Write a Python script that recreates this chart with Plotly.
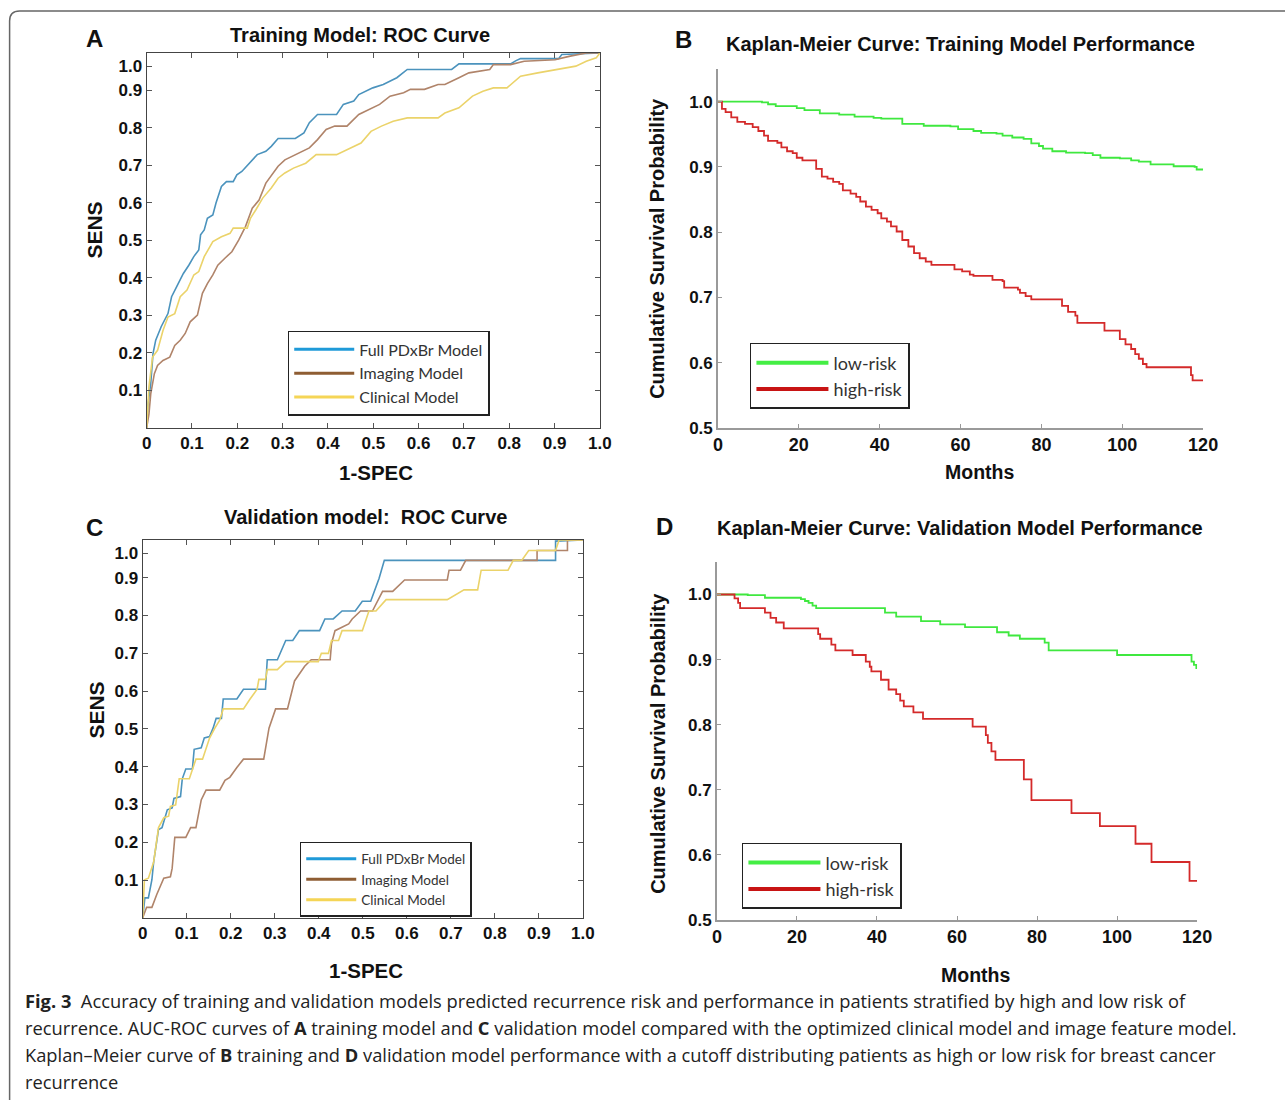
import plotly.graph_objects as go

W, H = 1285, 1100

# ---------------- data ----------------
# Panel A: training ROC (1-SPEC, SENS)
a_full_x = [0, 0.003, 0.009, 0.014, 0.02, 0.032, 0.047, 0.055, 0.066, 0.081, 0.093, 0.104, 0.115, 0.119, 0.127, 0.134, 0.146, 0.153, 0.165, 0.176, 0.191, 0.199, 0.21, 0.226, 0.244, 0.263, 0.275, 0.29, 0.328, 0.347, 0.359, 0.377, 0.419, 0.434, 0.457, 0.468, 0.499, 0.522, 0.552, 0.575, 0.673, 0.689, 0.803, 0.814, 0.825, 0.909, 0.916, 1.0]
a_full_y = [0, 0.064, 0.118, 0.198, 0.234, 0.27, 0.305, 0.35, 0.376, 0.412, 0.434, 0.457, 0.475, 0.515, 0.528, 0.559, 0.568, 0.6, 0.644, 0.657, 0.657, 0.675, 0.684, 0.706, 0.729, 0.738, 0.751, 0.772, 0.772, 0.787, 0.814, 0.836, 0.836, 0.863, 0.872, 0.889, 0.907, 0.916, 0.934, 0.956, 0.956, 0.971, 0.971, 0.979, 0.985, 0.985, 0.996, 1.0]
a_img_x = [0, 0.005, 0.009, 0.017, 0.024, 0.036, 0.051, 0.062, 0.074, 0.085, 0.096, 0.112, 0.123, 0.134, 0.146, 0.157, 0.172, 0.188, 0.203, 0.218, 0.233, 0.248, 0.263, 0.279, 0.29, 0.305, 0.328, 0.359, 0.377, 0.396, 0.415, 0.442, 0.468, 0.491, 0.514, 0.537, 0.567, 0.582, 0.613, 0.643, 0.658, 0.689, 0.711, 0.757, 0.765, 0.803, 0.833, 0.901, 0.932, 0.97, 1.0]
a_img_y = [0, 0.037, 0.091, 0.145, 0.167, 0.18, 0.189, 0.22, 0.234, 0.252, 0.283, 0.301, 0.359, 0.385, 0.408, 0.434, 0.452, 0.47, 0.501, 0.537, 0.586, 0.608, 0.653, 0.68, 0.698, 0.715, 0.729, 0.747, 0.769, 0.796, 0.805, 0.805, 0.836, 0.849, 0.863, 0.885, 0.894, 0.903, 0.903, 0.916, 0.916, 0.934, 0.947, 0.956, 0.969, 0.969, 0.978, 0.982, 0.991, 1.0, 1.0]
a_cli_x = [0, 0.005, 0.013, 0.024, 0.036, 0.047, 0.062, 0.074, 0.089, 0.104, 0.115, 0.127, 0.146, 0.165, 0.184, 0.191, 0.222, 0.229, 0.241, 0.256, 0.275, 0.29, 0.305, 0.324, 0.351, 0.374, 0.419, 0.45, 0.473, 0.495, 0.518, 0.544, 0.575, 0.643, 0.658, 0.689, 0.719, 0.742, 0.765, 0.795, 0.825, 0.863, 0.901, 0.947, 0.97, 0.992, 1.0]
a_cli_y = [0, 0.109, 0.189, 0.207, 0.26, 0.296, 0.305, 0.35, 0.368, 0.408, 0.417, 0.457, 0.497, 0.51, 0.519, 0.533, 0.533, 0.559, 0.582, 0.613, 0.64, 0.666, 0.68, 0.693, 0.706, 0.729, 0.729, 0.747, 0.76, 0.791, 0.805, 0.818, 0.827, 0.827, 0.84, 0.854, 0.885, 0.898, 0.907, 0.907, 0.938, 0.947, 0.956, 0.965, 0.978, 0.987, 1.0]

# Panel C: validation ROC
c_full_x = [0, 0.005, 0.013, 0.021, 0.025, 0.03, 0.036, 0.044, 0.056, 0.067, 0.071, 0.086, 0.09, 0.098, 0.113, 0.117, 0.133, 0.14, 0.152, 0.16, 0.167, 0.179, 0.183, 0.214, 0.229, 0.279, 0.283, 0.306, 0.325, 0.341, 0.356, 0.402, 0.414, 0.433, 0.453, 0.483, 0.499, 0.518, 0.537, 0.549, 0.938, 0.938, 1.0]
c_full_y = [0, 0.053, 0.053, 0.101, 0.148, 0.187, 0.234, 0.239, 0.286, 0.291, 0.316, 0.321, 0.368, 0.394, 0.394, 0.446, 0.45, 0.476, 0.48, 0.502, 0.528, 0.528, 0.579, 0.579, 0.605, 0.605, 0.683, 0.683, 0.734, 0.734, 0.76, 0.76, 0.791, 0.791, 0.812, 0.812, 0.838, 0.838, 0.898, 0.946, 0.946, 0.997, 1.0]
c_img_x = [0, 0.009, 0.021, 0.032, 0.048, 0.063, 0.067, 0.073, 0.098, 0.109, 0.121, 0.125, 0.133, 0.144, 0.175, 0.187, 0.198, 0.214, 0.229, 0.275, 0.287, 0.302, 0.329, 0.345, 0.368, 0.383, 0.426, 0.429, 0.437, 0.468, 0.476, 0.495, 0.522, 0.545, 0.568, 0.595, 0.692, 0.696, 0.722, 0.734, 0.896, 0.896, 0.965, 0.965, 1.0]
c_img_y = [0, 0.028, 0.028, 0.062, 0.105, 0.109, 0.131, 0.213, 0.213, 0.239, 0.239, 0.265, 0.312, 0.338, 0.338, 0.364, 0.372, 0.398, 0.42, 0.42, 0.502, 0.553, 0.553, 0.627, 0.666, 0.683, 0.683, 0.726, 0.76, 0.778, 0.791, 0.812, 0.812, 0.864, 0.864, 0.894, 0.894, 0.92, 0.92, 0.946, 0.946, 0.972, 0.972, 1.0, 1.0]
c_cli_x = [0, 0.004, 0.013, 0.025, 0.036, 0.048, 0.059, 0.063, 0.075, 0.083, 0.106, 0.121, 0.136, 0.152, 0.164, 0.175, 0.183, 0.229, 0.244, 0.26, 0.264, 0.279, 0.283, 0.306, 0.325, 0.399, 0.406, 0.422, 0.429, 0.445, 0.453, 0.499, 0.514, 0.53, 0.553, 0.692, 0.73, 0.761, 0.769, 0.83, 0.842, 0.861, 0.877, 0.938, 0.946, 1.0]
c_cli_y = [0, 0.101, 0.105, 0.148, 0.239, 0.265, 0.269, 0.295, 0.299, 0.368, 0.368, 0.42, 0.42, 0.476, 0.502, 0.523, 0.553, 0.553, 0.579, 0.605, 0.631, 0.631, 0.657, 0.657, 0.678, 0.678, 0.7, 0.7, 0.734, 0.734, 0.76, 0.76, 0.812, 0.812, 0.842, 0.842, 0.868, 0.868, 0.92, 0.92, 0.946, 0.946, 0.972, 0.972, 1.0, 1.0]

# Panel B: Kaplan-Meier, training (months, survival)
b_low_t = [0, 10.9, 12.4, 14.3, 19.5, 21.4, 25.2, 30, 33.8, 38.5, 40.4, 45.6, 50.9, 57.5, 59.4, 63.2, 65.1, 68.9, 70.4, 72.8, 75.6, 77.5, 79.4, 80.4, 82.7, 86.1, 90.8, 92.7, 94.6, 99.4, 102.2, 104.1, 107, 112.7, 117.9, 118.4, 120]
b_low_s = [1.0, 0.999, 0.996, 0.993, 0.99, 0.987, 0.982, 0.98, 0.977, 0.975, 0.974, 0.966, 0.963, 0.962, 0.958, 0.955, 0.952, 0.951, 0.948, 0.945, 0.943, 0.936, 0.932, 0.928, 0.924, 0.922, 0.921, 0.918, 0.914, 0.913, 0.91, 0.908, 0.904, 0.901, 0.9, 0.896, 0.896]
b_high_t = [0, 1, 1.9, 3.3, 4.8, 6.7, 8.6, 10, 11.4, 12.4, 14.7, 15.7, 17.1, 18.5, 19.5, 20.9, 24.3, 25.7, 27.1, 28.5, 30, 30.9, 32.8, 34.2, 35.2, 36.6, 38, 39.5, 40.4, 41.8, 42.8, 44.2, 45.6, 47.1, 48.5, 49.9, 51.4, 52.8, 58.5, 60.4, 62.3, 63.2, 67.9, 70.4, 70.8, 74.2, 74.7, 76.1, 77.5, 85.1, 86.6, 88.4, 88.9, 95.6, 99.4, 100.8, 102.2, 103.2, 104.1, 105.1, 106, 117, 117.4, 120]
b_high_s = [1.0, 0.989, 0.984, 0.976, 0.969, 0.966, 0.961, 0.955, 0.948, 0.94, 0.937, 0.93, 0.924, 0.921, 0.914, 0.91, 0.897, 0.885, 0.882, 0.877, 0.874, 0.864, 0.859, 0.854, 0.847, 0.839, 0.834, 0.829, 0.821, 0.816, 0.809, 0.801, 0.788, 0.778, 0.768, 0.76, 0.755, 0.75, 0.743, 0.74, 0.735, 0.733, 0.727, 0.725, 0.715, 0.712, 0.707, 0.702, 0.697, 0.687, 0.678, 0.672, 0.661, 0.649, 0.636, 0.628, 0.621, 0.613, 0.606, 0.598, 0.593, 0.581, 0.573, 0.573]

# Panel D: Kaplan-Meier, validation
d_low_t = [0, 7.7, 12, 21, 22, 22.9, 23.9, 24.8, 42, 44.8, 51, 55.8, 62, 70, 72.9, 75.7, 81.9, 82.9, 100, 118.6, 119.2, 119.8, 120]
d_low_s = [1.0, 0.999, 0.995, 0.993, 0.99, 0.987, 0.983, 0.979, 0.972, 0.966, 0.959, 0.954, 0.95, 0.942, 0.937, 0.932, 0.926, 0.914, 0.907, 0.897, 0.892, 0.887, 0.887]
d_high_t = [0, 4.4, 5.3, 5.8, 12, 13.4, 14.8, 16.7, 25.3, 25.8, 28.6, 29.6, 33.9, 37.2, 38.2, 38.6, 41, 42.9, 44.8, 45.8, 46.7, 49.1, 51.5, 63.9, 67.2, 67.7, 68.6, 69.6, 76.7, 78.6, 88.6, 95.7, 104.6, 108.6, 118.1, 120]
d_high_s = [1.0, 0.994, 0.987, 0.979, 0.972, 0.964, 0.957, 0.948, 0.939, 0.932, 0.923, 0.914, 0.907, 0.897, 0.889, 0.882, 0.869, 0.854, 0.847, 0.837, 0.828, 0.819, 0.809, 0.797, 0.784, 0.772, 0.759, 0.746, 0.716, 0.684, 0.664, 0.644, 0.617, 0.589, 0.56, 0.56]

roc_names = ["Full PDxBr Model", "Imaging Model", "Clinical Model"]
km_names = ["low-risk", "high-risk"]
roc_ticks = [0, 0.1, 0.2, 0.3, 0.4, 0.5, 0.6, 0.7, 0.8, 0.9, 1.0]
roc_tick_text = ["0", "0.1", "0.2", "0.3", "0.4", "0.5", "0.6", "0.7", "0.8", "0.9", "1.0"]
roc_ytick_vals = [0.1, 0.2, 0.3, 0.4, 0.5, 0.6, 0.7, 0.8, 0.9, 0.965]
roc_ytick_text = ["0.1", "0.2", "0.3", "0.4", "0.5", "0.6", "0.7", "0.8", "0.9", "1.0"]
km_xticks = [0, 20, 40, 60, 80, 100, 120]
km_yticks = [0.5, 0.6, 0.7, 0.8, 0.9, 1.0]

# ---------------- styling ----------------
roc_line_colors = ["#4b93bd", "#b0846a", "#ebd36a"]
roc_leg_colors = ["#1f9ad8", "#8e5d33", "#f5d556"]
km_line_colors = ["#3fe83f", "#d42a2a"]
km_leg_colors = ["#44ee44", "#c81414"]

BOLD = "Liberation Sans, Arial, sans-serif"
LEGF = "Lato, Open Sans, sans-serif"

# empirical calibration between intended window pixels and the rendered picture
SX, BX, SY = 0.984, 5.4, 0.991


def px(x):
    return ((x - BX) / SX) / W


def py(y):
    return 1 - (y / SY) / H


fig = go.Figure()

roc_sets = {
    "A": [(a_full_x, a_full_y), (a_img_x, a_img_y), (a_cli_x, a_cli_y)],
    "C": [(c_full_x, c_full_y), (c_img_x, c_img_y), (c_cli_x, c_cli_y)],
}
roc_axes = {"A": ("x", "y", "legend"), "C": ("x3", "y3", "legend3")}
for key, sets in roc_sets.items():
    xa, ya, lg = roc_axes[key]
    for (xs, ys), name, col in zip(sets, roc_names, roc_line_colors):
        fig.add_trace(go.Scatter(x=xs, y=ys, mode="lines", name=name, xaxis=xa, yaxis=ya,
                                 line=dict(color=col, width=1.6), showlegend=False))
    for name, col in zip(roc_names, roc_leg_colors):
        fig.add_trace(go.Scatter(x=[None], y=[None], mode="lines", name=name, xaxis=xa, yaxis=ya,
                                 line=dict(color=col, width=3), legend=lg, showlegend=True))

km_sets = {
    "B": [(b_low_t, b_low_s), (b_high_t, b_high_s)],
    "D": [(d_low_t, d_low_s), (d_high_t, d_high_s)],
}
km_axes = {"B": ("x2", "y2", "legend2"), "D": ("x4", "y4", "legend4")}
for key, sets in km_sets.items():
    xa, ya, lg = km_axes[key]
    for (ts, ss), name, col in zip(sets, km_names, km_line_colors):
        fig.add_trace(go.Scatter(x=ts, y=ss, mode="lines", name=name, xaxis=xa, yaxis=ya,
                                 line=dict(color=col, width=1.8, shape="hv"), showlegend=False))
    for name, col in zip(km_names, km_leg_colors):
        fig.add_trace(go.Scatter(x=[None], y=[None], mode="lines", name=name, xaxis=xa, yaxis=ya,
                                 line=dict(color=col, width=4), legend=lg, showlegend=True))

tickfont = dict(family=BOLD, size=17, color="#111", weight="bold")


def roc_x(dom, anchor):
    return dict(domain=dom, range=[0, 1], tickvals=roc_ticks, ticktext=roc_tick_text,
                ticks="inside", ticklen=5, tickcolor="#555", showline=True, linecolor="#444",
                linewidth=1, mirror="ticks", showgrid=False, zeroline=False, tickfont=tickfont,
                anchor=anchor)


def roc_y(dom, anchor):
    return dict(domain=dom, range=[0, 1], tickvals=roc_ytick_vals, ticktext=roc_ytick_text,
                ticks="inside", ticklen=5, tickcolor="#555", showline=True, linecolor="#444",
                linewidth=1, mirror="ticks", showgrid=False, zeroline=False, tickfont=tickfont,
                anchor=anchor)


def km_x(dom, anchor):
    return dict(domain=dom, range=[0, 120], tickvals=km_xticks, ticks="inside", ticklen=4,
                tickcolor="#999", showline=True, linecolor="#9a9a9a", linewidth=1.5,
                showgrid=False, zeroline=False,
                tickfont=dict(family=BOLD, size=18, color="#111", weight="bold"), anchor=anchor)


def km_y(dom, anchor):
    return dict(domain=dom, range=[0.5, 1.05], tickvals=km_yticks, tickformat=".1f", ticks="inside",
                ticklen=4, tickcolor="#999", showline=True, linecolor="#9a9a9a", linewidth=1.5,
                showgrid=False, zeroline=False,
                tickfont=dict(family=BOLD, size=17, color="#111", weight="bold"), anchor=anchor)


# pixel geometry of plot areas (reference pixels)
A = dict(l=147, r=600, t=53, b=428)
B = dict(l=718, r=1203, t=69, b=428)
C = dict(l=143, r=583, t=540, b=918)
D = dict(l=717, r=1197, t=562, b=920)


def legend_box(x, y, size, itemwidth):
    return dict(x=px(x), y=py(y), xanchor="left", yanchor="top", bgcolor="white",
                bordercolor="#222", borderwidth=1.5, itemwidth=itemwidth,
                font=dict(family=LEGF, size=size, color="#333"))


fig.update_layout(
    width=W, height=H, margin=dict(l=0, r=0, t=0, b=0),
    paper_bgcolor="white", plot_bgcolor="white",
    xaxis=roc_x([px(A["l"]), px(A["r"])], "y"),
    yaxis=roc_y([py(A["b"]), py(A["t"])], "x"),
    xaxis2=km_x([px(B["l"]), px(B["r"])], "y2"),
    yaxis2=km_y([py(B["b"]), py(B["t"])], "x2"),
    xaxis3=roc_x([px(C["l"]), px(C["r"])], "y3"),
    yaxis3=roc_y([py(C["b"]), py(C["t"])], "x3"),
    xaxis4=km_x([px(D["l"]), px(D["r"])], "y4"),
    yaxis4=km_y([py(D["b"]), py(D["t"])], "x4"),
    legend=legend_box(288, 331, 16, 60),
    legend2=legend_box(750, 343, 18, 72),
    legend3=legend_box(300, 842, 13.5, 50),
    legend4=legend_box(742, 843, 18, 72),
)

annos = []


def txt(text, x, y, size, angle=0, family=BOLD, color="#111", xanchor="center"):
    annos.append(dict(text=text, x=px(x), y=py(y), xref="paper", yref="paper", showarrow=False,
                      xanchor=xanchor, yanchor="middle", textangle=angle,
                      font=dict(family=family, size=size, color=color, weight="bold")))


# panel letters and titles
txt("A", 95, 39, 24)
txt("Training Model: ROC Curve", 360, 35, 20)
txt("B", 684, 40, 24)
txt("Kaplan-Meier Curve: Training Model Performance", 960, 44, 20)
txt("C", 95, 528, 24)
txt("Validation model:  ROC Curve", 366, 517, 20)
txt("D", 665, 527, 24)
txt("Kaplan-Meier Curve: Validation Model Performance", 960, 528, 20)
# axis titles
txt("1-SPEC", 376, 473, 20.5)
txt("SENS", 95, 230, 21, angle=-90)
txt("Months", 979, 472, 19.5)
txt("Cumulative Survival Probability", 657, 248, 20, angle=-90)
txt("1-SPEC", 366, 971, 20.5)
txt("SENS", 97, 710, 21, angle=-90)
txt("Months", 975, 975, 19.5)
txt("Cumulative Survival Probability", 658, 743, 20, angle=-90)

caption_lines = [
    "<b>Fig. 3</b>  Accuracy of training and validation models predicted recurrence risk and performance in patients stratified by high and low risk of",
    "recurrence. AUC-ROC curves of <b>A</b> training model and <b>C</b> validation model compared with the optimized clinical model and image feature model.",
    "Kaplan–Meier curve of <b>B</b> training and <b>D</b> validation model performance with a cutoff distributing patients as high or low risk for breast cancer",
    "recurrence",
]
for i, line in enumerate(caption_lines):
    annos.append(dict(text=line, x=px(23), y=py(1001 + 27 * i), xref="paper", yref="paper",
                      showarrow=False, xanchor="left", yanchor="middle",
                      font=dict(family="Open Sans, sans-serif", size=18.3, color="#222")))

fig.update_layout(annotations=annos)

# figure frame with rounded corner (top-left)
path = (f"M {px(10)},{py(1110)} L {px(10)},{py(21)} "
        f"Q {px(10)},{py(11)} {px(20)},{py(11)} L {px(1300)},{py(11)}")
fig.add_shape(type="path", path=path, xref="paper", yref="paper",
              line=dict(color="#666", width=1.5))

fig.write_html("out.html", config={"displayModeBar": False},
               post_script="document.body.style.margin='0';")
